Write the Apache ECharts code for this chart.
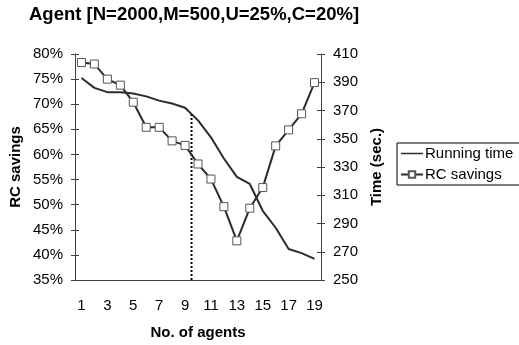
<!DOCTYPE html>
<html>
<head>
<meta charset="utf-8">
<script src="https://cdn.jsdelivr.net/npm/echarts@6/dist/echarts.min.js"></script>
<style>
  html, body { margin: 0; padding: 0; background: #fff; }
  #chart { width: 519px; height: 345px; }
</style>
</head>
<body>
<div id="chart"></div>
<script>
// 横轴：代理数量 1..19
const agents = ['1', '2', '3', '4', '5', '6', '7', '8', '9', '10',
  '11', '12', '13', '14', '15', '16', '17', '18', '19']

// 运行时间（秒），右轴
const runningTime = [393, 386, 383, 383, 382, 380, 377, 375, 372, 363,
  351, 336, 323, 318, 299, 287, 272, 269, 265]

// RC 节省比例（%），左轴
const rcSavings = [78.3, 78.0, 75.0, 73.8, 70.4, 65.4, 65.4, 62.7, 61.8, 58.1,
  55.1, 49.6, 42.8, 49.3, 53.4, 61.7, 64.9, 68.1, 74.3]

// 虚线分界位置（第 9 与第 10 个代理之间）
const dividerAt = 9.5

const FONT = 'Liberation Sans, Arial, sans-serif'
const INK = '#2b2b2b'
const AXIS = '#404040'

// 图例里只画一条横线（带两个极小的点撑开外框，保证比例 22:8）
const LINE_ICON = 'path://M0,0h0.01v0.01h-0.01z M0,3.2H22V4.8H0Z M21.99,7.99h0.01v0.01h-0.01z'

const chart = echarts.init(document.getElementById('chart'))

const dividerTop = (runningTime[8] + runningTime[9]) / 2

const leftAxisBase = { type: 'value', min: 35, max: 80, interval: 5, position: 'left' }
const rightAxisBase = { type: 'value', min: 250, max: 410, interval: 20, position: 'right' }

chart.setOption({
  animation: false,
  backgroundColor: '#fff',
  textStyle: { fontFamily: FONT },
  title: {
    text: 'Agent [N=2000,M=500,U=25%,C=20%]',
    left: 24,
    top: 0,
    textStyle: { fontFamily: FONT, fontSize: 18.5, fontWeight: 'bold', color: '#000' },
  },
  legend: {
    left: 397,
    top: 143,
    orient: 'vertical',
    itemWidth: 22,
    itemHeight: 8,
    itemGap: 6,
    padding: [3, 8, 3, 3],
    borderColor: '#000',
    borderWidth: 1,
    borderRadius: 0,
    textStyle: { fontFamily: FONT, fontSize: 15, color: '#000', padding: [0, 0, 0, -3] },
    data: [{ name: 'Running time', icon: LINE_ICON }, 'RC savings'],
  },
  grid: { left: 75, right: 198, top: 54, bottom: 65 },
  xAxis: [
    {
      type: 'category',
      data: agents,
      boundaryGap: true,
      name: 'No. of agents',
      nameLocation: 'middle',
      nameGap: 45,
      nameTextStyle: { fontFamily: FONT, fontSize: 15, fontWeight: 'bold', color: '#000' },
      axisLine: { lineStyle: { color: AXIS, width: 1 } },
      axisTick: { interval: 1, length: 4, lineStyle: { color: AXIS } },
      axisLabel: { interval: 1, margin: 18, fontFamily: FONT, fontSize: 15, color: '#000' },
      splitLine: { show: false },
    },
    {
      type: 'category',
      data: agents,
      boundaryGap: true,
      position: 'bottom',
      axisLine: { show: false },
      axisTick: { interval: 1, inside: true, length: 4, lineStyle: { color: AXIS } },
      axisLabel: { show: false },
    },
    {
      type: 'value',
      min: 0.5,
      max: 19.5,
      show: false,
    },
  ],
  yAxis: [
    {
      ...leftAxisBase,
      name: 'RC savings',
      nameLocation: 'middle',
      nameGap: 52,
      nameTextStyle: { fontFamily: FONT, fontSize: 15, fontWeight: 'bold', color: '#000' },
      axisLine: { show: true, lineStyle: { color: AXIS } },
      axisTick: { show: true, length: 4, lineStyle: { color: AXIS } },
      axisLabel: { margin: 12, fontFamily: FONT, fontSize: 15, color: '#000', formatter: '{value}%' },
      splitLine: { show: false },
    },
    {
      ...rightAxisBase,
      name: 'Time (sec.)',
      nameLocation: 'middle',
      nameGap: 48,
      nameTextStyle: { fontFamily: FONT, fontSize: 15, fontWeight: 'bold', color: '#000', padding: [0, 0, 18, 0] },
      axisLine: { show: true, lineStyle: { color: AXIS } },
      axisTick: { show: true, length: 4, lineStyle: { color: AXIS } },
      axisLabel: { margin: 12, fontFamily: FONT, fontSize: 15, color: '#000' },
      splitLine: { show: false },
    },
    {
      ...leftAxisBase,
      axisLine: { show: false },
      axisTick: { show: true, inside: true, length: 4, lineStyle: { color: AXIS } },
      axisLabel: { show: false },
      splitLine: { show: false },
    },
    {
      ...rightAxisBase,
      axisLine: { show: false },
      axisTick: { show: true, inside: true, length: 4, lineStyle: { color: AXIS } },
      axisLabel: { show: false },
      splitLine: { show: false },
    },
  ],
  series: [
    {
      name: 'Running time',
      type: 'line',
      xAxisIndex: 0,
      yAxisIndex: 1,
      data: runningTime,
      symbol: 'none',
      lineStyle: { color: INK, width: 2 },
      itemStyle: { color: INK },
      z: 3,
    },
    {
      name: 'RC savings',
      type: 'line',
      xAxisIndex: 0,
      yAxisIndex: 0,
      data: rcSavings,
      symbol: 'rect',
      symbolSize: 8,
      lineStyle: { color: INK, width: 2 },
      itemStyle: { color: '#fff', borderColor: '#555', borderWidth: 1 },
      z: 4,
    },
    {
      name: 'divider',
      type: 'line',
      xAxisIndex: 2,
      yAxisIndex: 1,
      data: [[dividerAt, 250], [dividerAt, dividerTop]],
      symbol: 'none',
      lineStyle: { color: '#000', width: 2, type: [2, 2] },
      silent: true,
      z: 2,
    },
  ],
})
</script>
</body>
</html>
